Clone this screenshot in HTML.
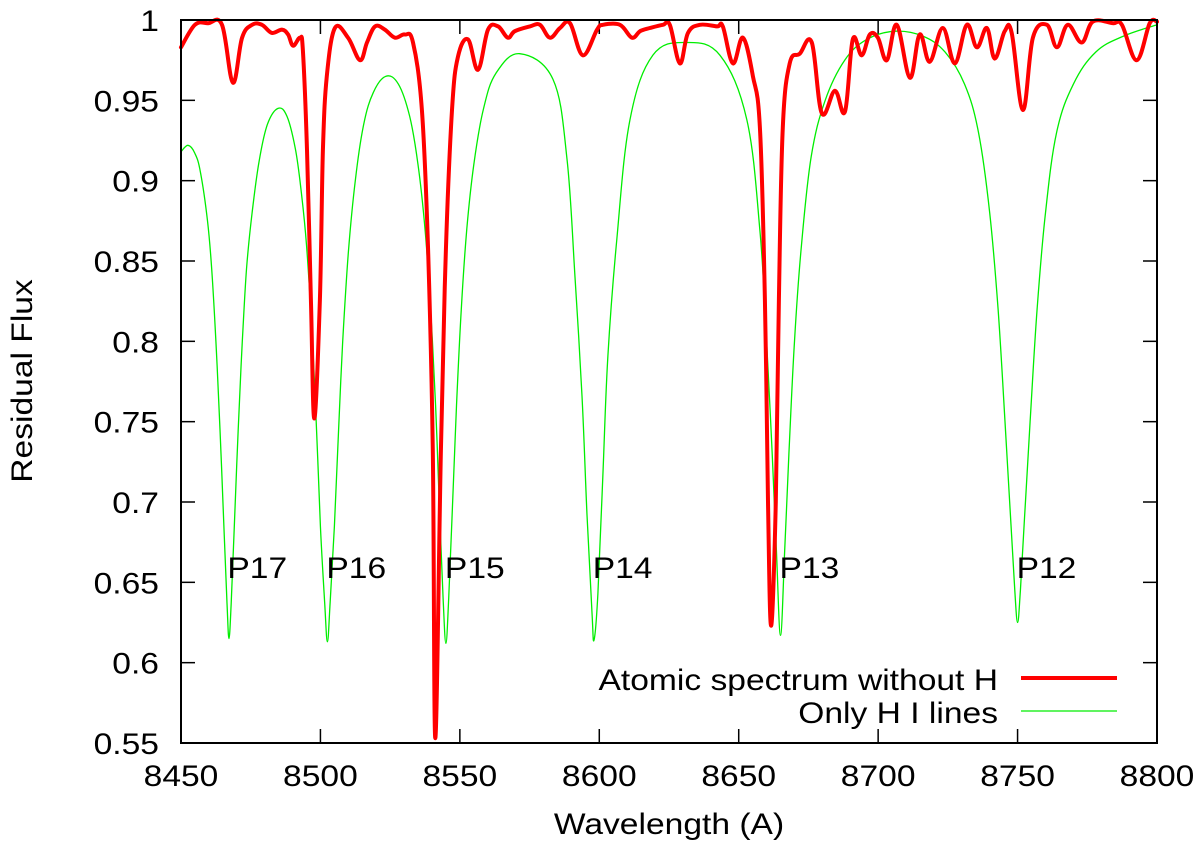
<!DOCTYPE html>
<html><head><meta charset="utf-8"><style>
html,body{margin:0;padding:0;background:#fff;}
svg{display:block;font-family:"Liberation Sans",sans-serif;}
</style></head><body>
<svg id="chart" width="1200" height="854" viewBox="0 0 1200 854" xmlns="http://www.w3.org/2000/svg">
<rect x="0" y="0" width="1200" height="854" fill="#fff"/>
<g id="ticks"></g>
<g id="series"></g>
<rect x="181" y="20" width="976" height="723" fill="none" stroke="#000" stroke-width="2"/>
<g id="labels"></g>
<g id="legend"></g>
</svg>
<script>
const xTicks = [8450,8500,8550,8600,8650,8700,8750,8800];
const xTickLabels = ["8450","8500","8550","8600","8650","8700","8750","8800"];
const yTicks = [0.55,0.6,0.65,0.7,0.75,0.8,0.85,0.9,0.95,1];
const yTickLabels = ["0.55","0.6","0.65","0.7","0.75","0.8","0.85","0.9","0.95","1"];
const atomicWl = [8450,8455,8459.7,8464.7,8468.6,8471.9,8475.5,8479,8482.6,8486.2,8488.4,8490.2,8492.7,8493.7,8495.2,8496.6,8497.8,8499.8,8500.9,8502.3,8505.2,8509.9,8514.2,8516.7,8519.6,8523.1,8526.7,8530.3,8533.2,8536.4,8538.6,8540.3,8541.2,8543.2,8545,8547.2,8549.3,8552.9,8556.5,8560.1,8563.7,8567.2,8569.7,8575.1,8578.7,8582.3,8585.9,8589.5,8594.1,8599.2,8601.3,8607.4,8611.7,8614.6,8618.1,8622.8,8625.3,8628.9,8631.8,8636.1,8642.2,8644.3,8647.9,8651.5,8655.1,8657.6,8659.4,8660.5,8661.6,8663.3,8664.4,8665.8,8668.3,8671.9,8676.2,8679.8,8684.5,8688.1,8690.9,8694.1,8697,8699.9,8703.1,8706.7,8711.4,8714.9,8718.5,8723.2,8727.5,8731.8,8735.4,8739,8741.8,8745.4,8747.9,8751.9,8755.5,8760.5,8764.1,8768,8773,8777,8784.1,8787.4,8792.7,8797.4,8800];
const atomicFlux = [0.983,0.997,0.998,0.997,0.961,0.989,0.997,0.997,0.992,0.994,0.991,0.984,0.989,0.981,0.919,0.826,0.752,0.826,0.919,0.965,0.995,0.989,0.975,0.986,0.996,0.994,0.989,0.991,0.986,0.944,0.857,0.732,0.553,0.732,0.857,0.944,0.977,0.988,0.969,0.994,0.996,0.989,0.993,0.996,0.997,0.989,0.995,0.998,0.978,0.994,0.997,0.997,0.989,0.993,0.995,0.997,0.997,0.973,0.992,0.997,0.996,0.996,0.973,0.989,0.965,0.933,0.826,0.70,0.623,0.70,0.826,0.933,0.973,0.979,0.986,0.942,0.956,0.943,0.988,0.978,0.991,0.989,0.975,0.997,0.964,0.991,0.974,0.995,0.973,0.997,0.983,0.995,0.976,0.993,0.992,0.944,0.989,0.997,0.983,0.997,0.986,0.999,0.998,0.997,0.975,0.998,0.999];
const hydrogenWl = [8450,8452.5,8455,8457,8459.5,8461,8462.5,8464,8465.5,8466.5,8467.2,8468,8469,8470.5,8472,8473.5,8475.5,8478,8481,8484.8,8488,8491,8493,8495,8497,8498.5,8500,8501.5,8502.5,8503.5,8505,8506.5,8508,8510,8512.5,8515.5,8519,8523.5,8528,8532,8535,8537.5,8539.5,8541.3,8542.8,8544,8545,8546,8547.2,8548.8,8550.5,8552.5,8555,8558.5,8563,8571.5,8583.4,8588.4,8591.3,8593.8,8595.6,8597.4,8598.1,8599.5,8601.3,8603.1,8606.3,8611,8619.2,8631.1,8643.3,8652.9,8657.6,8660,8662,8663.5,8665,8666.5,8668,8670,8672.5,8676,8681,8688,8696,8706,8716,8724,8731,8736,8740,8743,8745.5,8747.5,8749,8750,8751,8752.5,8754.5,8757,8760,8764,8770,8778,8788,8800];
const hydrogenFlux = [0.918,0.922,0.917,0.905,0.875,0.845,0.80,0.745,0.68,0.637,0.615,0.637,0.68,0.745,0.80,0.845,0.88,0.912,0.935,0.945,0.94,0.92,0.895,0.86,0.805,0.75,0.685,0.638,0.613,0.638,0.685,0.745,0.80,0.855,0.90,0.935,0.955,0.965,0.96,0.94,0.91,0.87,0.82,0.76,0.69,0.64,0.612,0.64,0.69,0.76,0.82,0.87,0.91,0.945,0.967,0.979,0.963,0.914,0.84,0.766,0.692,0.631,0.614,0.643,0.717,0.791,0.864,0.938,0.978,0.986,0.978,0.938,0.869,0.80,0.73,0.67,0.617,0.67,0.73,0.80,0.86,0.915,0.95,0.975,0.988,0.993,0.99,0.98,0.96,0.93,0.88,0.82,0.75,0.69,0.645,0.625,0.645,0.69,0.75,0.82,0.88,0.93,0.96,0.98,0.99,0.997];
const lineNames = ["P17","P16","P15","P14","P13","P12"];
const lineWl = [8467,8502.5,8545,8598,8665,8750];

const NS = "http://www.w3.org/2000/svg";
const X0=181, X1=1157, Y0=743, Y1=20;
function xScale(w){ return X0 + (w-8450)/(8800-8450)*(X1-X0); }
function yScale(f){ return Y0 - (f-0.55)/(1-0.55)*(Y0-Y1); }
const SX = 1.12;
const FS = 30;
function mk(tag, parent){ const e=document.createElementNS(NS,tag); parent.appendChild(e); return e; }
function txt(parent, s, x, y, anchor){
  const t = mk("text", parent);
  t.setAttribute("transform", "translate("+x+","+y+") scale("+SX+",1)");
  t.setAttribute("text-anchor", anchor);
  t.setAttribute("font-size", FS);
  t.setAttribute("fill", "#000");
  t.textContent = s;
  return t;
}
const ticks = document.getElementById("ticks");
const labels = document.getElementById("labels");
xTicks.forEach((v,i)=>{
  const x = xScale(v);
  const a = mk("line", ticks);
  
  
  a.setAttribute("x1",x);a.setAttribute("x2",x);a.setAttribute("y1",Y0);a.setAttribute("y2",Y0-14);a.setAttribute("stroke","#000");a.setAttribute("stroke-width","1.5");
  const b = mk("line", ticks);
  
  
  b.setAttribute("x1",x);b.setAttribute("x2",x);b.setAttribute("y1",Y1);b.setAttribute("y2",Y1+14);b.setAttribute("stroke","#000");b.setAttribute("stroke-width","1.5");
  const t = txt(labels, xTickLabels[i], x, 786, "middle");
  
  
});
yTicks.forEach((v,i)=>{
  const y = yScale(v);
  const a = mk("line", ticks);
  
  
  a.setAttribute("x1",X0);a.setAttribute("x2",X0+14);a.setAttribute("y1",y);a.setAttribute("y2",y);a.setAttribute("stroke","#000");a.setAttribute("stroke-width","1.5");
  const b = mk("line", ticks);
  
  
  b.setAttribute("x1",X1);b.setAttribute("x2",X1-14);b.setAttribute("y1",y);b.setAttribute("y2",y);b.setAttribute("stroke","#000");b.setAttribute("stroke-width","1.5");
  const t = txt(labels, yTickLabels[i], 159, y+11, "end");
  
  
});
const series = document.getElementById("series");
function smoothPath(pts){
  let d = "M"+pts[0][0].toFixed(1)+","+pts[0][1].toFixed(1);
  for(let i=0;i<pts.length-1;i++){
    const p0=pts[Math.max(0,i-1)], p1=pts[i], p2=pts[i+1], p3=pts[Math.min(pts.length-1,i+2)];
    const k=0.18;
    const c1=[p1[0]+(p2[0]-p0[0])*k, p1[1]+(p2[1]-p0[1])*k];
    const c2=[p2[0]-(p3[0]-p1[0])*k, p2[1]-(p3[1]-p1[1])*k];
    d += " C"+c1[0].toFixed(1)+","+c1[1].toFixed(1)+" "+c2[0].toFixed(1)+","+c2[1].toFixed(1)+" "+p2[0].toFixed(1)+","+p2[1].toFixed(1);
  }
  return d;
}
function curve(wl, fl, color, w, name){
  const p = mk("path", series);
  
  
  p.setAttribute("d", smoothPath(wl.map((v,i)=>[xScale(v), yScale(fl[i])])));
  p.setAttribute("fill","none");p.setAttribute("stroke",color);p.setAttribute("stroke-width",w);
  p.setAttribute("stroke-linejoin","round");p.setAttribute("stroke-linecap","round");
}
curve(hydrogenWl, hydrogenFlux, "#00ee00", 1.3, "hydrogen-lines-series");
curve(atomicWl, atomicFlux, "#ff0000", 4, "atomic-spectrum-series");
lineNames.forEach((n,i)=>{
  const t = txt(labels, n, xScale(lineWl[i]) - 1, 578, "start");
  
  
});
const xl = txt(labels, "Wavelength (A)", 669, 834, "middle");


const yl = mk("text", labels);


yl.setAttribute("transform","translate(32,381) rotate(-90) scale("+SX+",1)");
yl.setAttribute("text-anchor","middle");yl.setAttribute("font-size",FS);
yl.textContent = "Residual Flux";
const legend = document.getElementById("legend");
const l1 = txt(legend, "Atomic spectrum without H", 998, 690, "end");


const l2 = txt(legend, "Only H I lines", 998, 723, "end");


const s1 = mk("line", legend);


s1.setAttribute("x1",1021);s1.setAttribute("x2",1117);s1.setAttribute("y1",678);s1.setAttribute("y2",678);s1.setAttribute("stroke","#ff0000");s1.setAttribute("stroke-width","4");
const s2 = mk("line", legend);


s2.setAttribute("x1",1021);s2.setAttribute("x2",1117);s2.setAttribute("y1",711);s2.setAttribute("y2",711);s2.setAttribute("stroke","#00ee00");s2.setAttribute("stroke-width","1.3");
</script>
</body></html>
